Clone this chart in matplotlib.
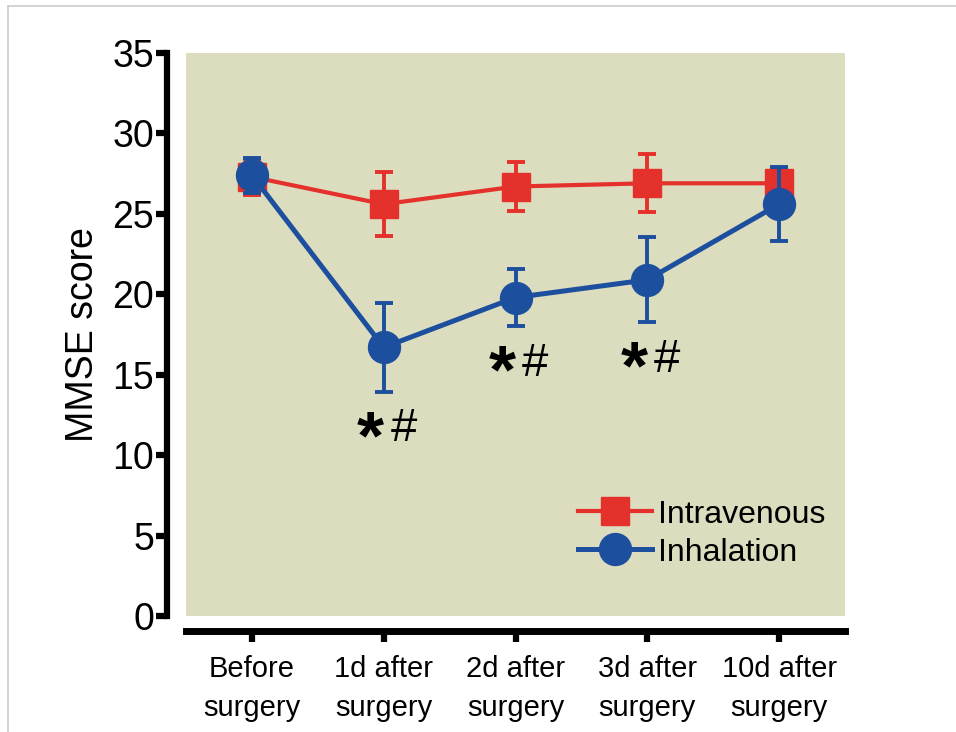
import numpy as np
import matplotlib.pyplot as plt
from matplotlib.lines import Line2D

# data
timepoints = ['Before\nsurgery', '1d after\nsurgery', '2d after\nsurgery', '3d after\nsurgery', '10d after\nsurgery']
iv_mean = [27.3, 25.6, 26.7, 26.9, 26.9]
iv_sd = [1.1, 2.0, 1.55, 1.8, 0.9]
inh_mean = [27.4, 16.7, 19.8, 20.9, 25.6]
inh_sd = [1.1, 2.75, 1.8, 2.65, 2.3]
sig_marks = ['', '*#', '*#', '*#', '']

red = '#e5312b'
blue = '#1d4f9f'

plt.rcParams['font.family'] = ['Liberation Sans', 'DejaVu Sans']

fig = plt.figure(figsize=(9.56, 7.32), dpi=100)
ax = fig.add_axes([186/956, 1-616/732, (845-186)/956, (616-53)/732])
ax.set_facecolor('#dcdcbf')

# spines first - set_position resets the ticks
for side in ['top', 'right']:
    ax.spines[side].set_visible(False)
ax.spines['left'].set_position(('outward', 14))
ax.spines['bottom'].set_position(('outward', 11))
ax.spines['left'].set_linewidth(4.5)
ax.spines['bottom'].set_linewidth(5)
ax.spines['left'].set_capstyle('projecting')

x = np.arange(len(timepoints))
ax.errorbar(x, iv_mean, yerr=iv_sd, color=red, marker='s', markersize=20, lw=3,
            capsize=6.5, capthick=2.8, elinewidth=2.8, zorder=3)
ax.errorbar(x, inh_mean, yerr=inh_sd, color=blue, marker='o', markersize=23, lw=3.6,
            capsize=6.5, capthick=2.8, elinewidth=2.8, zorder=4)

# significance marks under the inhalation error bars
for i, s in enumerate(sig_marks):
    if s:
        y = inh_mean[i] - inh_sd[i] - 2.05
        ax.annotate('*', (x[i] - 0.1, y), xytext=(0, -24), textcoords='offset points',
                    fontsize=50, fontweight='bold', ha='center', va='baseline', color='black')
        ax.annotate('#', (x[i] + 0.15, y), xytext=(0, -12), textcoords='offset points',
                    fontsize=34, ha='center', va='baseline', color='black')

ax.set_xlim(-0.5, 4.5)
ax.set_ylim(0, 35)
ax.set_yticks(range(0, 36, 5))
ax.set_xticks(x)
ax.tick_params(axis='y', labelsize=27, width=4.5, length=8, pad=1)
ax.tick_params(axis='x', labelsize=21, width=4.5, length=8, pad=9)
ax.set_xticklabels(timepoints, linespacing=1.5)
ax.set_ylabel('MMSE score', fontsize=27, labelpad=8)

handles = [Line2D([], [], color=red, marker='s', markersize=20, lw=3),
           Line2D([], [], color=blue, marker='o', markersize=23, lw=3.6)]
ax.legend(handles, ['Intravenous', 'Inhalation'], loc='lower right', bbox_to_anchor=(1.014, 0.035),
          frameon=False, fontsize=23, handlelength=2.3, handletextpad=0.2, labelspacing=0.25)

# light frame around the figure
fig.add_artist(Line2D([8/956, 1], [1-6/732, 1-6/732], color='#cccccc', lw=1.2))
fig.add_artist(Line2D([8/956, 8/956], [0, 1-6/732], color='#cccccc', lw=1.2))

fig.savefig('out.png', dpi=100)
